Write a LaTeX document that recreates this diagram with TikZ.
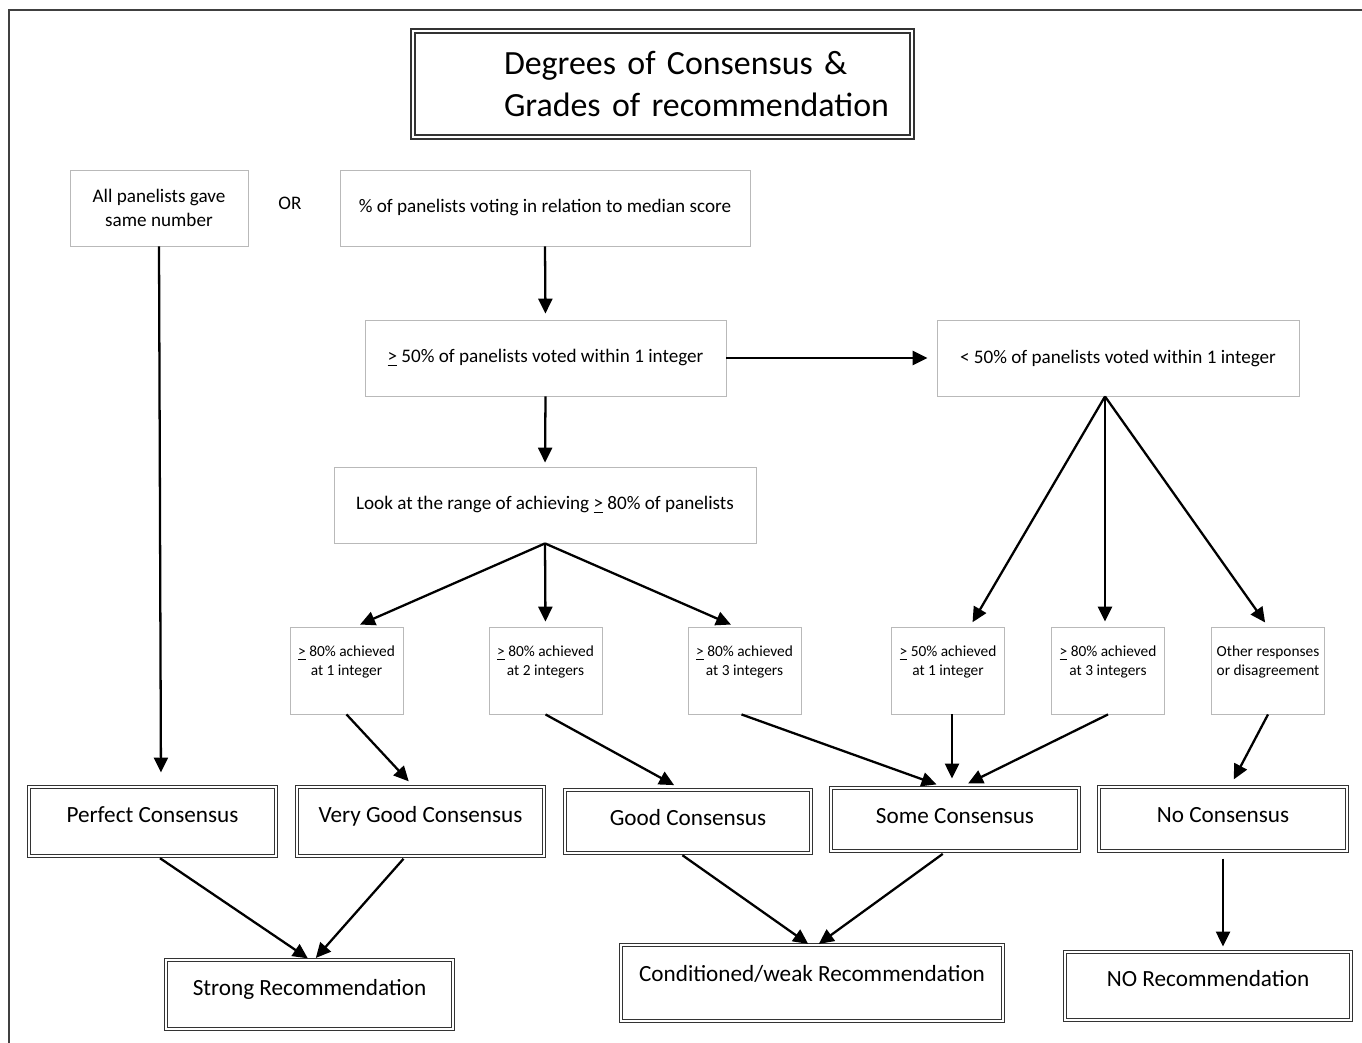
\documentclass[tikz,border=0pt]{standalone}
\usepackage{fontspec}
\setmainfont{Carlito}
\usetikzlibrary{arrows.meta,positioning}

\newdimen\pxu \pxu=0.02cm
\newcommand{\atleast}{\underline{>}}

\tikzset{
	plainbox/.style={draw=gray!55, line width=0.5pt, align=center, inner sep=0pt, minimum height=76\pxu, font=\fontsize{10.9}{13.2}\selectfont},
	smallbox/.style={draw=gray!55, line width=0.5pt, align=center, inner sep=0pt, minimum width=113\pxu, minimum height=87\pxu, font=\fontsize{8.75}{10.8}\selectfont},
	gradebox/.style={draw=black!80, double, double distance=1.3pt, line width=0.6pt, inner sep=0pt, font=\fontsize{13.2}{15}\selectfont},
	flow/.style={-{Triangle[length=8.5pt,width=8pt]}, line width=1.3pt}
}

\begin{document}
\begin{tikzpicture}[x=0.02cm,y=-0.02cm]
		\useasboundingbox (0,0) rectangle (1362,1043);
		% frame
		\draw[black!75, line width=0.8pt] (9,1043) -- (9,10) -- (1362,10);

		% title
		\node[draw=black!80, double, double distance=1.6pt, line width=0.65pt, inner sep=0pt, text width=499\pxu, minimum height=106\pxu, align=left, font=\fontsize{19.3}{24}\selectfont] (title) at (662.5,84)
			{\hspace*{91\pxu}Degrees of Consensus \&\\\hspace*{91\pxu}Grades of recommendation};

		% first level
		\node[plainbox, minimum width=178\pxu] (same) at (159,208) {All panelists gave\\same number};
		\node[font=\fontsize{10.9}{13}\selectfont] (or) at (290,203) {OR};
		\node[plainbox, minimum width=410\pxu, text depth=5\pxu] (median) at (545,208) {\% of panelists voting in relation to median score};
		\node[plainbox, minimum width=361\pxu] (above) at (545.5,358) {\atleast{} 50\% of panelists voted within 1 integer};
		\node[plainbox, minimum width=362\pxu] (below) at (1118,358) {< 50\% of panelists voted within 1 integer};
		\node[plainbox, minimum width=422\pxu] (range) at (545,505) {Look at the range of achieving \atleast{} 80\% of panelists};

		% small boxes
		\node[smallbox] (one) at (346.5,670.5) {\atleast{} 80\% achieved\\at 1 integer\\\mbox{}};
		\node[smallbox] (two) at (545.5,670.5) {\atleast{} 80\% achieved\\at 2 integers\\\mbox{}};
		\node[smallbox] (three) at (744.5,670.5) {\atleast{} 80\% achieved\\at 3 integers\\\mbox{}};
		\node[smallbox] (half) at (948,670.5) {\atleast{} 50\% achieved\\at 1 integer\\\mbox{}};
		\node[smallbox] (threeb) at (1108,670.5) {\atleast{} 80\% achieved\\at 3 integers\\\mbox{}};
		\node[smallbox] (other) at (1268,670.5) {Other responses\\or disagreement\\\mbox{}};

		% degrees of consensus
		\node[gradebox, minimum width=247\pxu, text height=35\pxu, text depth=34\pxu] (perfect) at (152.5,821.5) {Perfect Consensus};
		\node[gradebox, minimum width=247\pxu, text height=35\pxu, text depth=34\pxu] (verygood) at (420.5,821.5) {Very Good Consensus};
		\node[gradebox, minimum width=246\pxu, text height=35\pxu, text depth=28\pxu] (good) at (688,821.5) {Good Consensus};
		\node[gradebox, minimum width=248\pxu, text height=35\pxu, text depth=28\pxu] (some) at (955,819.5) {Some Consensus};
		\node[gradebox, minimum width=248\pxu, text height=35\pxu, text depth=29\pxu] (none) at (1223,819) {No Consensus};

		% grades of recommendation
		\node[gradebox, minimum width=287\pxu, text height=35\pxu, text depth=34\pxu] (strong) at (309.5,994.5) {Strong Recommendation};
		\node[gradebox, minimum width=382\pxu, text height=36\pxu, text depth=40\pxu] (weak) at (812,983) {Conditioned/weak Recommendation};
		\node[gradebox, minimum width=286\pxu, text height=34\pxu, text depth=34\pxu] (norec) at (1208,986) {NO Recommendation};

		% arrows
		\draw[flow, shorten >=14\pxu] (same.south) -- ([xshift=2\pxu]same.south |- perfect.north);
		\draw[flow, shorten >=6\pxu] (median.south) -- (above.north);
		\draw[flow, shorten >=9\pxu] (above.east) -- (below.west);
		\draw[flow, shorten >=4\pxu] (above.south) -- (range.north);
		\draw[flow, shorten >=5\pxu] (range.south) -- ([xshift=9\pxu]one.north);
		\draw[flow, shorten >=5\pxu] (range.south) -- (two.north);
		\draw[flow, shorten >=5\pxu] (range.south) -- ([xshift=-9\pxu]three.north);
		\draw[flow, shorten >=5\pxu] ([xshift=-13\pxu]below.south) -- ([xshift=22\pxu]half.north);
		\draw[flow, shorten >=5\pxu] ([xshift=-13\pxu]below.south) -- ([xshift=-3\pxu]threeb.north);
		\draw[flow, shorten >=5\pxu] ([xshift=-13\pxu]below.south) -- (other.north);
		\draw[flow, shorten >=7\pxu] (one.south) -- ([xshift=-7\pxu]verygood.north);
		\draw[flow, shorten >=9\pxu] (two.south) -- ([xshift=-6\pxu]good.north);
		\draw[flow, shorten >=9\pxu] ([xshift=-3\pxu]three.south) -- ([xshift=-10\pxu]some.north);
		\draw[flow, shorten >=9\pxu] ([xshift=4\pxu]half.south) -- ([xshift=-3\pxu]some.north);
		\draw[flow, shorten >=9\pxu] (threeb.south) -- ([xshift=5\pxu]some.north);
		\draw[flow, shorten >=8\pxu] (other.south) -- ([xshift=7\pxu]none.north);
		\draw[flow, shorten <=3\pxu, shorten >=2\pxu] ([xshift=5\pxu]perfect.south) -- (strong.north);
		\draw[flow, shorten <=3\pxu, shorten >=2\pxu] ([xshift=-15\pxu]verygood.south) -- ([xshift=5\pxu]strong.north);
		\draw[flow, shorten <=3\pxu, shorten >=1\pxu] ([xshift=-8\pxu]good.south) -- ([xshift=-3\pxu]weak.north);
		\draw[flow, shorten <=4\pxu, shorten >=1\pxu] ([xshift=-9\pxu]some.south) -- ([xshift=6\pxu]weak.north);
		\draw[flow, shorten <=7\pxu, shorten >=5\pxu] (none.south) -- (none.south |- norec.north);
	\end{tikzpicture}
\end{document}
